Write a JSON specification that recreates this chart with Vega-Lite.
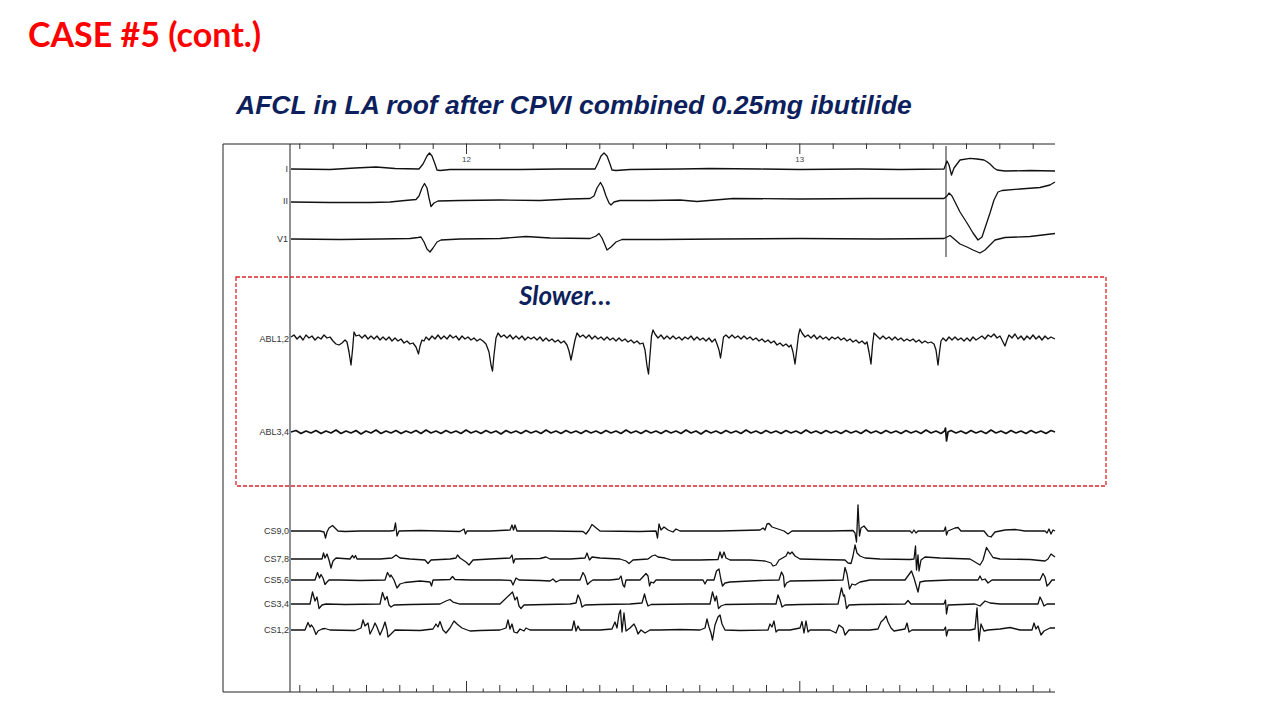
{
"$schema":"https://vega.github.io/schema/vega-lite/v6.json",
"width":1280,"height":720,"padding":0,"autosize":{"type":"none"},
"background":"#ffffff","view":{"stroke":null},
"datasets":{
"frame":[{"x":223,"y":144,"x2":223,"y2":692},{"x":290,"y":144,"x2":290,"y2":692},{"x":223,"y":144,"x2":1055,"y2":144},{"x":223,"y":692,"x2":1055,"y2":692},{"x":946,"y":146,"x2":946,"y2":257}],
"box":[{"x":236,"y":277,"x2":1106,"y2":486}],
"ticks":[
{"x":299.8,"y":143.5,"y2":149},{"x":333.2,"y":143.5,"y2":149},{"x":366.5,"y":143.5,"y2":149},{"x":399.8,"y":143.5,"y2":149},{"x":433.2,"y":143.5,"y2":149},{"x":466.5,"y":143.5,"y2":154},{"x":499.8,"y":143.5,"y2":149},{"x":533.2,"y":143.5,"y2":149},{"x":566.5,"y":143.5,"y2":149},{"x":599.8,"y":143.5,"y2":149},{"x":633.2,"y":143.5,"y2":149},{"x":666.5,"y":143.5,"y2":149},{"x":699.8,"y":143.5,"y2":149},{"x":733.2,"y":143.5,"y2":149},{"x":766.5,"y":143.5,"y2":149},{"x":799.8,"y":143.5,"y2":154},{"x":833.2,"y":143.5,"y2":149},{"x":866.5,"y":143.5,"y2":149},{"x":899.8,"y":143.5,"y2":149},{"x":933.2,"y":143.5,"y2":149},{"x":966.5,"y":143.5,"y2":149},{"x":999.8,"y":143.5,"y2":149},{"x":1033.2,"y":143.5,"y2":149},
{"x":299.8,"y":692,"y2":685},{"x":333.2,"y":692,"y2":685},{"x":366.5,"y":692,"y2":685},{"x":399.8,"y":692,"y2":685},{"x":433.2,"y":692,"y2":685},{"x":466.5,"y":692,"y2":681},{"x":499.8,"y":692,"y2":685},{"x":533.2,"y":692,"y2":685},{"x":566.5,"y":692,"y2":685},{"x":599.8,"y":692,"y2":685},{"x":633.2,"y":692,"y2":685},{"x":666.5,"y":692,"y2":685},{"x":699.8,"y":692,"y2":685},{"x":733.2,"y":692,"y2":685},{"x":766.5,"y":692,"y2":685},{"x":799.8,"y":692,"y2":681},{"x":833.2,"y":692,"y2":685},{"x":866.5,"y":692,"y2":685},{"x":899.8,"y":692,"y2":685},{"x":933.2,"y":692,"y2":685},{"x":966.5,"y":692,"y2":685},{"x":999.8,"y":692,"y2":685},{"x":1033.2,"y":692,"y2":685},
{"x":316.5,"y":692,"y2":688.5},{"x":349.8,"y":692,"y2":688.5},{"x":383.2,"y":692,"y2":688.5},{"x":416.5,"y":692,"y2":688.5},{"x":449.8,"y":692,"y2":688.5},{"x":483.2,"y":692,"y2":688.5},{"x":516.5,"y":692,"y2":688.5},{"x":549.8,"y":692,"y2":688.5},{"x":583.2,"y":692,"y2":688.5},{"x":616.5,"y":692,"y2":688.5},{"x":649.8,"y":692,"y2":688.5},{"x":683.2,"y":692,"y2":688.5},{"x":716.5,"y":692,"y2":688.5},{"x":749.8,"y":692,"y2":688.5},{"x":783.2,"y":692,"y2":688.5},{"x":816.5,"y":692,"y2":688.5},{"x":849.8,"y":692,"y2":688.5},{"x":883.2,"y":692,"y2":688.5},{"x":916.5,"y":692,"y2":688.5},{"x":949.8,"y":692,"y2":688.5},{"x":983.2,"y":692,"y2":688.5},{"x":1016.5,"y":692,"y2":688.5},{"x":1049.8,"y":692,"y2":688.5}],
"leads":[{"x":288,"y":169,"t":"I"},{"x":288,"y":201,"t":"II"},{"x":288,"y":239,"t":"V1"},{"x":289,"y":339,"t":"ABL1,2"},{"x":289,"y":432,"t":"ABL3,4"},{"x":289,"y":531,"t":"CS9,0"},{"x":289,"y":559,"t":"CS7,8"},{"x":289,"y":580,"t":"CS5,6"},{"x":289,"y":604,"t":"CS3,4"},{"x":289,"y":630,"t":"CS1,2"}],
"secs":[{"x":466.5,"y":160,"t":"12"},{"x":799.8,"y":160,"t":"13"}],
"w":[
{"k":"I","x":291,"y":169},{"k":"I","x":330,"y":169.5},{"k":"I","x":355,"y":168},{"k":"I","x":376,"y":167},{"k":"I","x":395,"y":168.5},{"k":"I","x":419,"y":169},{"k":"I","x":423,"y":164},{"k":"I","x":427,"y":156},{"k":"I","x":429.5,"y":153},{"k":"I","x":432,"y":156},{"k":"I","x":435,"y":164},{"k":"I","x":437,"y":170},{"k":"I","x":440,"y":170.5},{"k":"I","x":450,"y":169.5},{"k":"I","x":520,"y":169.5},{"k":"I","x":560,"y":169},{"k":"I","x":595,"y":169},{"k":"I","x":598,"y":163},{"k":"I","x":601,"y":156},{"k":"I","x":604,"y":153},{"k":"I","x":607,"y":156},{"k":"I","x":610,"y":164},{"k":"I","x":612,"y":170},{"k":"I","x":616,"y":170.5},{"k":"I","x":630,"y":169.5},{"k":"I","x":680,"y":169},{"k":"I","x":710,"y":168.5},{"k":"I","x":760,"y":169},{"k":"I","x":800,"y":169.5},{"k":"I","x":860,"y":169},{"k":"I","x":900,"y":169.5},{"k":"I","x":944,"y":169},{"k":"I","x":947,"y":161},{"k":"I","x":949,"y":165},{"k":"I","x":951.5,"y":175},{"k":"I","x":954,"y":168},{"k":"I","x":960,"y":160},{"k":"I","x":970,"y":158.3},{"k":"I","x":977,"y":159},{"k":"I","x":984,"y":160},{"k":"I","x":987,"y":161.7},{"k":"I","x":990,"y":164},{"k":"I","x":994,"y":168},{"k":"I","x":997,"y":170},{"k":"I","x":1005,"y":171},{"k":"I","x":1030,"y":170.5},{"k":"I","x":1055,"y":171},
{"k":"II","x":291,"y":202},{"k":"II","x":330,"y":202.5},{"k":"II","x":370,"y":202.5},{"k":"II","x":390,"y":202},{"k":"II","x":405,"y":200.5},{"k":"II","x":416,"y":199.5},{"k":"II","x":419,"y":196},{"k":"II","x":422,"y":188},{"k":"II","x":424.5,"y":183.5},{"k":"II","x":427,"y":188},{"k":"II","x":429,"y":198},{"k":"II","x":431,"y":206.5},{"k":"II","x":434,"y":203},{"k":"II","x":438,"y":201},{"k":"II","x":460,"y":200.5},{"k":"II","x":500,"y":200},{"k":"II","x":540,"y":200.5},{"k":"II","x":570,"y":199},{"k":"II","x":590,"y":198.5},{"k":"II","x":594,"y":196},{"k":"II","x":597,"y":188},{"k":"II","x":600.5,"y":182.5},{"k":"II","x":603,"y":187},{"k":"II","x":606,"y":196},{"k":"II","x":609,"y":203},{"k":"II","x":611,"y":205},{"k":"II","x":614,"y":202},{"k":"II","x":620,"y":200.5},{"k":"II","x":650,"y":200.5},{"k":"II","x":680,"y":200},{"k":"II","x":697,"y":201.5},{"k":"II","x":715,"y":200},{"k":"II","x":733,"y":198.5},{"k":"II","x":800,"y":199},{"k":"II","x":870,"y":198.5},{"k":"II","x":944,"y":198.5},{"k":"II","x":947,"y":196},{"k":"II","x":949,"y":193},{"k":"II","x":952,"y":196},{"k":"II","x":960,"y":212},{"k":"II","x":967,"y":223},{"k":"II","x":973,"y":233},{"k":"II","x":978,"y":240},{"k":"II","x":982,"y":237},{"k":"II","x":986,"y":225},{"k":"II","x":990,"y":213},{"k":"II","x":994,"y":200},{"k":"II","x":998,"y":192},{"k":"II","x":1002,"y":190.5},{"k":"II","x":1020,"y":189},{"k":"II","x":1040,"y":187.5},{"k":"II","x":1050,"y":185},{"k":"II","x":1055,"y":182},
{"k":"V1","x":291,"y":239},{"k":"V1","x":340,"y":239.5},{"k":"V1","x":380,"y":239},{"k":"V1","x":410,"y":238.5},{"k":"V1","x":418,"y":237.5},{"k":"V1","x":421,"y":237},{"k":"V1","x":424,"y":242},{"k":"V1","x":427,"y":249},{"k":"V1","x":430,"y":252},{"k":"V1","x":433,"y":248},{"k":"V1","x":437,"y":242},{"k":"V1","x":441,"y":240},{"k":"V1","x":460,"y":239},{"k":"V1","x":500,"y":238.5},{"k":"V1","x":526,"y":236.5},{"k":"V1","x":550,"y":238},{"k":"V1","x":590,"y":238.5},{"k":"V1","x":596,"y":236},{"k":"V1","x":599,"y":233.5},{"k":"V1","x":602,"y":238},{"k":"V1","x":605,"y":245},{"k":"V1","x":607,"y":250},{"k":"V1","x":611,"y":247},{"k":"V1","x":616,"y":242},{"k":"V1","x":622,"y":239.5},{"k":"V1","x":660,"y":239.5},{"k":"V1","x":720,"y":239},{"k":"V1","x":800,"y":238.5},{"k":"V1","x":880,"y":239},{"k":"V1","x":944,"y":238.5},{"k":"V1","x":947,"y":237},{"k":"V1","x":950,"y":235.5},{"k":"V1","x":953,"y":238},{"k":"V1","x":960,"y":244},{"k":"V1","x":967,"y":247},{"k":"V1","x":973,"y":250},{"k":"V1","x":980,"y":253},{"k":"V1","x":985,"y":250},{"k":"V1","x":990,"y":245},{"k":"V1","x":995,"y":240},{"k":"V1","x":1005,"y":237.5},{"k":"V1","x":1030,"y":236.5},{"k":"V1","x":1055,"y":233.5},
{"k":"A12","x":291,"y":337},{"k":"A12","x":294,"y":335},{"k":"A12","x":297,"y":339},{"k":"A12","x":300,"y":336},{"k":"A12","x":303,"y":340},{"k":"A12","x":306,"y":335},{"k":"A12","x":309,"y":338},{"k":"A12","x":312,"y":336},{"k":"A12","x":315,"y":340},{"k":"A12","x":318,"y":337},{"k":"A12","x":321,"y":339},{"k":"A12","x":324,"y":335},{"k":"A12","x":327,"y":338},{"k":"A12","x":330,"y":337},{"k":"A12","x":333,"y":341},{"k":"A12","x":336,"y":344},{"k":"A12","x":339,"y":345},{"k":"A12","x":342,"y":343},{"k":"A12","x":345,"y":340},{"k":"A12","x":347,"y":342},{"k":"A12","x":349,"y":352},{"k":"A12","x":351,"y":365},{"k":"A12","x":352.5,"y":350},{"k":"A12","x":354,"y":332},{"k":"A12","x":356,"y":336},
{"k":"A12","x":359,"y":335},{"k":"A12","x":362,"y":338},{"k":"A12","x":365,"y":335},{"k":"A12","x":368,"y":339},{"k":"A12","x":371,"y":336},{"k":"A12","x":374,"y":339},{"k":"A12","x":377,"y":336},{"k":"A12","x":380,"y":340},{"k":"A12","x":383,"y":337},{"k":"A12","x":386,"y":340},{"k":"A12","x":389,"y":337},{"k":"A12","x":392,"y":341},{"k":"A12","x":395,"y":338},{"k":"A12","x":398,"y":341},{"k":"A12","x":401,"y":339},{"k":"A12","x":404,"y":343},{"k":"A12","x":407,"y":341},{"k":"A12","x":410,"y":344},{"k":"A12","x":413,"y":343},{"k":"A12","x":416,"y":347},{"k":"A12","x":418.5,"y":354},{"k":"A12","x":420,"y":346},{"k":"A12","x":422,"y":340},{"k":"A12","x":424,"y":341},{"k":"A12","x":426,"y":337},{"k":"A12","x":429,"y":340},{"k":"A12","x":432,"y":336},{"k":"A12","x":435,"y":339},{"k":"A12","x":438,"y":335},
{"k":"A12","x":441,"y":339},{"k":"A12","x":444,"y":336},{"k":"A12","x":447,"y":339},{"k":"A12","x":450,"y":335},{"k":"A12","x":453,"y":338},{"k":"A12","x":456,"y":336},{"k":"A12","x":459,"y":340},{"k":"A12","x":462,"y":336},{"k":"A12","x":465,"y":339},{"k":"A12","x":468,"y":337},{"k":"A12","x":471,"y":340},{"k":"A12","x":474,"y":338},{"k":"A12","x":477,"y":341},{"k":"A12","x":480,"y":339},{"k":"A12","x":483,"y":341},{"k":"A12","x":486,"y":344},{"k":"A12","x":489,"y":352},{"k":"A12","x":491,"y":365},{"k":"A12","x":492.5,"y":371},{"k":"A12","x":494,"y":355},{"k":"A12","x":496,"y":338},{"k":"A12","x":498,"y":333},{"k":"A12","x":501,"y":337},
{"k":"A12","x":504,"y":335},{"k":"A12","x":507,"y":338},{"k":"A12","x":510,"y":335},{"k":"A12","x":513,"y":339},{"k":"A12","x":516,"y":336},{"k":"A12","x":519,"y":339},{"k":"A12","x":522,"y":336},{"k":"A12","x":525,"y":340},{"k":"A12","x":528,"y":337},{"k":"A12","x":531,"y":339},{"k":"A12","x":534,"y":337},{"k":"A12","x":537,"y":340},{"k":"A12","x":540,"y":337},{"k":"A12","x":543,"y":341},{"k":"A12","x":546,"y":338},{"k":"A12","x":549,"y":341},{"k":"A12","x":552,"y":339},{"k":"A12","x":555,"y":342},{"k":"A12","x":558,"y":340},{"k":"A12","x":561,"y":343},{"k":"A12","x":564,"y":341},{"k":"A12","x":567,"y":345},{"k":"A12","x":569,"y":351},{"k":"A12","x":571,"y":360},{"k":"A12","x":573,"y":350},{"k":"A12","x":575,"y":340},{"k":"A12","x":577,"y":333},{"k":"A12","x":580,"y":337},{"k":"A12","x":583,"y":335},
{"k":"A12","x":586,"y":338},{"k":"A12","x":589,"y":335},{"k":"A12","x":592,"y":339},{"k":"A12","x":595,"y":336},{"k":"A12","x":598,"y":339},{"k":"A12","x":601,"y":337},{"k":"A12","x":604,"y":340},{"k":"A12","x":607,"y":337},{"k":"A12","x":610,"y":340},{"k":"A12","x":613,"y":338},{"k":"A12","x":616,"y":341},{"k":"A12","x":619,"y":338},{"k":"A12","x":622,"y":341},{"k":"A12","x":625,"y":339},{"k":"A12","x":628,"y":342},{"k":"A12","x":631,"y":340},{"k":"A12","x":634,"y":343},{"k":"A12","x":637,"y":341},{"k":"A12","x":640,"y":344},{"k":"A12","x":643,"y":343},{"k":"A12","x":645,"y":350},{"k":"A12","x":647,"y":366},{"k":"A12","x":648.5,"y":374},{"k":"A12","x":650,"y":355},{"k":"A12","x":651.5,"y":336},{"k":"A12","x":653,"y":330},{"k":"A12","x":655,"y":334},{"k":"A12","x":658,"y":338},
{"k":"A12","x":661,"y":335},{"k":"A12","x":664,"y":339},{"k":"A12","x":667,"y":336},{"k":"A12","x":670,"y":339},{"k":"A12","x":673,"y":336},{"k":"A12","x":676,"y":339},{"k":"A12","x":679,"y":337},{"k":"A12","x":682,"y":340},{"k":"A12","x":685,"y":337},{"k":"A12","x":688,"y":339},{"k":"A12","x":691,"y":336},{"k":"A12","x":694,"y":340},{"k":"A12","x":697,"y":337},{"k":"A12","x":700,"y":340},{"k":"A12","x":703,"y":338},{"k":"A12","x":706,"y":341},{"k":"A12","x":709,"y":338},{"k":"A12","x":712,"y":342},{"k":"A12","x":715,"y":339},{"k":"A12","x":717,"y":344},{"k":"A12","x":719,"y":350},{"k":"A12","x":720.5,"y":358},{"k":"A12","x":722,"y":348},{"k":"A12","x":723.5,"y":337},{"k":"A12","x":726,"y":335},{"k":"A12","x":729,"y":338},
{"k":"A12","x":732,"y":335},{"k":"A12","x":735,"y":338},{"k":"A12","x":738,"y":336},{"k":"A12","x":741,"y":339},{"k":"A12","x":744,"y":336},{"k":"A12","x":747,"y":339},{"k":"A12","x":750,"y":337},{"k":"A12","x":753,"y":340},{"k":"A12","x":756,"y":338},{"k":"A12","x":759,"y":341},{"k":"A12","x":762,"y":339},{"k":"A12","x":765,"y":342},{"k":"A12","x":768,"y":340},{"k":"A12","x":771,"y":343},{"k":"A12","x":774,"y":341},{"k":"A12","x":777,"y":345},{"k":"A12","x":780,"y":343},{"k":"A12","x":783,"y":346},{"k":"A12","x":786,"y":344},{"k":"A12","x":789,"y":347},{"k":"A12","x":791,"y":345},{"k":"A12","x":793,"y":352},{"k":"A12","x":795,"y":364},{"k":"A12","x":797,"y":348},{"k":"A12","x":798.5,"y":335},{"k":"A12","x":800,"y":329},{"k":"A12","x":802,"y":333},{"k":"A12","x":805,"y":337},
{"k":"A12","x":808,"y":335},{"k":"A12","x":811,"y":338},{"k":"A12","x":814,"y":335},{"k":"A12","x":817,"y":339},{"k":"A12","x":820,"y":336},{"k":"A12","x":823,"y":339},{"k":"A12","x":826,"y":337},{"k":"A12","x":829,"y":340},{"k":"A12","x":832,"y":337},{"k":"A12","x":835,"y":339},{"k":"A12","x":838,"y":337},{"k":"A12","x":841,"y":340},{"k":"A12","x":844,"y":338},{"k":"A12","x":847,"y":341},{"k":"A12","x":850,"y":339},{"k":"A12","x":853,"y":342},{"k":"A12","x":856,"y":340},{"k":"A12","x":859,"y":343},{"k":"A12","x":862,"y":341},{"k":"A12","x":865,"y":344},{"k":"A12","x":867,"y":342},{"k":"A12","x":869,"y":352},{"k":"A12","x":871,"y":364},{"k":"A12","x":872.5,"y":345},{"k":"A12","x":874,"y":333},{"k":"A12","x":877,"y":336},
{"k":"A12","x":880,"y":339},{"k":"A12","x":883,"y":336},{"k":"A12","x":886,"y":339},{"k":"A12","x":889,"y":337},{"k":"A12","x":892,"y":340},{"k":"A12","x":895,"y":337},{"k":"A12","x":898,"y":340},{"k":"A12","x":901,"y":338},{"k":"A12","x":904,"y":341},{"k":"A12","x":907,"y":339},{"k":"A12","x":910,"y":341},{"k":"A12","x":913,"y":339},{"k":"A12","x":916,"y":342},{"k":"A12","x":919,"y":340},{"k":"A12","x":922,"y":343},{"k":"A12","x":925,"y":341},{"k":"A12","x":928,"y":343},{"k":"A12","x":931,"y":342},{"k":"A12","x":934,"y":344},{"k":"A12","x":936,"y":350},{"k":"A12","x":938,"y":365},{"k":"A12","x":939.5,"y":352},{"k":"A12","x":941,"y":341},{"k":"A12","x":943,"y":338},{"k":"A12","x":946,"y":341},{"k":"A12","x":949,"y":337},
{"k":"A12","x":952,"y":340},{"k":"A12","x":955,"y":337},{"k":"A12","x":958,"y":340},{"k":"A12","x":961,"y":338},{"k":"A12","x":964,"y":341},{"k":"A12","x":967,"y":338},{"k":"A12","x":970,"y":341},{"k":"A12","x":973,"y":337},{"k":"A12","x":976,"y":340},{"k":"A12","x":979,"y":338},{"k":"A12","x":982,"y":336},{"k":"A12","x":985,"y":339},{"k":"A12","x":988,"y":335},{"k":"A12","x":991,"y":337},{"k":"A12","x":994,"y":334},{"k":"A12","x":997,"y":338},{"k":"A12","x":1000,"y":336},{"k":"A12","x":1003,"y":342},{"k":"A12","x":1005,"y":346},{"k":"A12","x":1007,"y":340},{"k":"A12","x":1009,"y":335},{"k":"A12","x":1012,"y":338},{"k":"A12","x":1015,"y":334},{"k":"A12","x":1018,"y":339},{"k":"A12","x":1021,"y":336},{"k":"A12","x":1024,"y":340},{"k":"A12","x":1027,"y":336},{"k":"A12","x":1030,"y":339},{"k":"A12","x":1033,"y":335},{"k":"A12","x":1036,"y":339},{"k":"A12","x":1039,"y":336},{"k":"A12","x":1042,"y":340},{"k":"A12","x":1045,"y":336},{"k":"A12","x":1048,"y":339},{"k":"A12","x":1051,"y":337},{"k":"A12","x":1055,"y":339},
{"k":"A34","x":291,"y":432},{"k":"A34","x":296,"y":430.5},{"k":"A34","x":301,"y":433.5},{"k":"A34","x":306,"y":431},{"k":"A34","x":311,"y":433},{"k":"A34","x":316,"y":430.5},{"k":"A34","x":321,"y":433.5},{"k":"A34","x":326,"y":431},{"k":"A34","x":331,"y":433},{"k":"A34","x":336,"y":430},{"k":"A34","x":341,"y":433.5},{"k":"A34","x":346,"y":431},{"k":"A34","x":351,"y":433},{"k":"A34","x":356,"y":430.5},{"k":"A34","x":361,"y":434},{"k":"A34","x":366,"y":431},{"k":"A34","x":371,"y":433},{"k":"A34","x":376,"y":430},{"k":"A34","x":381,"y":433.5},{"k":"A34","x":386,"y":431},{"k":"A34","x":391,"y":433},{"k":"A34","x":396,"y":430.5},{"k":"A34","x":401,"y":433.5},{"k":"A34","x":406,"y":431},{"k":"A34","x":411,"y":433},{"k":"A34","x":416,"y":430.5},{"k":"A34","x":421,"y":433.5},{"k":"A34","x":426,"y":430},{"k":"A34","x":431,"y":433},{"k":"A34","x":436,"y":431},{"k":"A34","x":441,"y":433.5},{"k":"A34","x":446,"y":430.5},{"k":"A34","x":451,"y":433},{"k":"A34","x":456,"y":431},{"k":"A34","x":461,"y":433.5},{"k":"A34","x":466,"y":430},{"k":"A34","x":471,"y":433},{"k":"A34","x":476,"y":431},{"k":"A34","x":481,"y":433.5},{"k":"A34","x":486,"y":430.5},{"k":"A34","x":491,"y":433},{"k":"A34","x":496,"y":431},{"k":"A34","x":501,"y":434},{"k":"A34","x":506,"y":430.5},{"k":"A34","x":511,"y":433},{"k":"A34","x":516,"y":431},{"k":"A34","x":521,"y":433.5},{"k":"A34","x":526,"y":430.5},{"k":"A34","x":531,"y":433},{"k":"A34","x":536,"y":431},{"k":"A34","x":541,"y":433.5},{"k":"A34","x":546,"y":430},{"k":"A34","x":551,"y":433},{"k":"A34","x":556,"y":431},{"k":"A34","x":561,"y":433.5},{"k":"A34","x":566,"y":430.5},{"k":"A34","x":571,"y":433},{"k":"A34","x":576,"y":431},{"k":"A34","x":581,"y":433.5},{"k":"A34","x":586,"y":430.5},{"k":"A34","x":591,"y":433},{"k":"A34","x":596,"y":431},{"k":"A34","x":601,"y":433.5},{"k":"A34","x":606,"y":430.5},{"k":"A34","x":611,"y":433},{"k":"A34","x":616,"y":431},{"k":"A34","x":621,"y":433.5},{"k":"A34","x":626,"y":430},{"k":"A34","x":631,"y":433},{"k":"A34","x":636,"y":431},{"k":"A34","x":641,"y":433.5},{"k":"A34","x":646,"y":430.5},{"k":"A34","x":651,"y":433},{"k":"A34","x":656,"y":431},{"k":"A34","x":661,"y":433.5},{"k":"A34","x":666,"y":430.5},{"k":"A34","x":671,"y":433},{"k":"A34","x":676,"y":431},{"k":"A34","x":681,"y":433.5},{"k":"A34","x":686,"y":430},{"k":"A34","x":691,"y":433},{"k":"A34","x":696,"y":431},{"k":"A34","x":701,"y":434},{"k":"A34","x":706,"y":430.5},{"k":"A34","x":711,"y":433},{"k":"A34","x":716,"y":431},{"k":"A34","x":721,"y":433.5},{"k":"A34","x":726,"y":430.5},{"k":"A34","x":731,"y":433},{"k":"A34","x":736,"y":431},{"k":"A34","x":741,"y":433.5},{"k":"A34","x":746,"y":430},{"k":"A34","x":751,"y":433},{"k":"A34","x":756,"y":431},{"k":"A34","x":761,"y":433.5},{"k":"A34","x":766,"y":430.5},{"k":"A34","x":771,"y":433},{"k":"A34","x":776,"y":431},{"k":"A34","x":781,"y":433.5},{"k":"A34","x":786,"y":430.5},{"k":"A34","x":791,"y":433},{"k":"A34","x":796,"y":431},{"k":"A34","x":801,"y":433.5},{"k":"A34","x":806,"y":430},{"k":"A34","x":811,"y":433},{"k":"A34","x":816,"y":431},{"k":"A34","x":821,"y":433.5},{"k":"A34","x":826,"y":430.5},{"k":"A34","x":831,"y":433},{"k":"A34","x":836,"y":431},{"k":"A34","x":841,"y":433.5},{"k":"A34","x":846,"y":430.5},{"k":"A34","x":851,"y":433},{"k":"A34","x":856,"y":431},{"k":"A34","x":861,"y":433.5},{"k":"A34","x":866,"y":430},{"k":"A34","x":871,"y":433},{"k":"A34","x":876,"y":431},{"k":"A34","x":881,"y":433.5},{"k":"A34","x":886,"y":430.5},{"k":"A34","x":891,"y":433},{"k":"A34","x":896,"y":431},{"k":"A34","x":901,"y":433.5},{"k":"A34","x":906,"y":430.5},{"k":"A34","x":911,"y":433},{"k":"A34","x":916,"y":431},{"k":"A34","x":921,"y":433.5},{"k":"A34","x":926,"y":430},{"k":"A34","x":931,"y":433},{"k":"A34","x":936,"y":431},{"k":"A34","x":941,"y":433.5},{"k":"A34","x":944.5,"y":431},{"k":"A34","x":945.5,"y":428},{"k":"A34","x":946.5,"y":441},{"k":"A34","x":948,"y":432},{"k":"A34","x":951,"y":430.5},{"k":"A34","x":956,"y":433},{"k":"A34","x":961,"y":431},{"k":"A34","x":966,"y":433.5},{"k":"A34","x":971,"y":430.5},{"k":"A34","x":976,"y":433},{"k":"A34","x":981,"y":431},{"k":"A34","x":986,"y":433.5},{"k":"A34","x":991,"y":430},{"k":"A34","x":996,"y":433},{"k":"A34","x":1001,"y":431},{"k":"A34","x":1006,"y":433.5},{"k":"A34","x":1011,"y":430.5},{"k":"A34","x":1016,"y":433},{"k":"A34","x":1021,"y":431},{"k":"A34","x":1026,"y":433.5},{"k":"A34","x":1031,"y":430.5},{"k":"A34","x":1036,"y":433},{"k":"A34","x":1041,"y":431},{"k":"A34","x":1046,"y":433.5},{"k":"A34","x":1051,"y":430.5},{"k":"A34","x":1055,"y":432},
{"k":"C90","x":291,"y":531},{"k":"C90","x":320,"y":531},{"k":"C90","x":324,"y":532},{"k":"C90","x":325.5,"y":538},{"k":"C90","x":327,"y":532},{"k":"C90","x":329,"y":528},{"k":"C90","x":332.5,"y":525.5},{"k":"C90","x":335,"y":528},{"k":"C90","x":338,"y":531},{"k":"C90","x":345,"y":531.5},{"k":"C90","x":360,"y":531},{"k":"C90","x":390,"y":531},{"k":"C90","x":394,"y":530.5},{"k":"C90","x":395.5,"y":523},{"k":"C90","x":397,"y":536},{"k":"C90","x":399,"y":531},{"k":"C90","x":420,"y":530.5},{"k":"C90","x":460,"y":531.5},{"k":"C90","x":464,"y":529},{"k":"C90","x":465.5,"y":534},{"k":"C90","x":467,"y":531},{"k":"C90","x":490,"y":531},{"k":"C90","x":510,"y":530},{"k":"C90","x":512,"y":525},{"k":"C90","x":513.5,"y":530},{"k":"C90","x":515,"y":525},{"k":"C90","x":517,"y":531},{"k":"C90","x":550,"y":531},{"k":"C90","x":583,"y":531.5},{"k":"C90","x":586,"y":534},{"k":"C90","x":589,"y":530},{"k":"C90","x":592,"y":524.5},{"k":"C90","x":595,"y":527},{"k":"C90","x":600,"y":531},{"k":"C90","x":640,"y":531.5},{"k":"C90","x":656,"y":531},{"k":"C90","x":657.5,"y":538},{"k":"C90","x":659,"y":524},{"k":"C90","x":661,"y":530},{"k":"C90","x":664,"y":527},{"k":"C90","x":668,"y":530},{"k":"C90","x":673,"y":532},{"k":"C90","x":676,"y":529},{"k":"C90","x":680,"y":531},{"k":"C90","x":720,"y":531},{"k":"C90","x":760,"y":530},{"k":"C90","x":763,"y":528},{"k":"C90","x":765,"y":530},{"k":"C90","x":767,"y":524},{"k":"C90","x":769,"y":523.5},{"k":"C90","x":772,"y":527},{"k":"C90","x":778,"y":529},{"k":"C90","x":784,"y":531},{"k":"C90","x":788,"y":534},{"k":"C90","x":792,"y":531},{"k":"C90","x":830,"y":531},{"k":"C90","x":853,"y":530.5},{"k":"C90","x":855,"y":533},{"k":"C90","x":856.5,"y":542},{"k":"C90","x":858,"y":505},{"k":"C90","x":859.5,"y":536},{"k":"C90","x":861,"y":528},{"k":"C90","x":864,"y":526},{"k":"C90","x":868,"y":531},{"k":"C90","x":910,"y":531},{"k":"C90","x":912,"y":533},{"k":"C90","x":914,"y":530},{"k":"C90","x":916,"y":533},{"k":"C90","x":918,"y":531},{"k":"C90","x":944,"y":531},{"k":"C90","x":945.5,"y":527},{"k":"C90","x":946.5,"y":535},{"k":"C90","x":948,"y":531},{"k":"C90","x":955,"y":528},{"k":"C90","x":958,"y":527.5},{"k":"C90","x":961,"y":531},{"k":"C90","x":984,"y":531},{"k":"C90","x":988,"y":536},{"k":"C90","x":991,"y":537},{"k":"C90","x":995,"y":532},{"k":"C90","x":1005,"y":530},{"k":"C90","x":1015,"y":529.5},{"k":"C90","x":1025,"y":531},{"k":"C90","x":1045,"y":531},{"k":"C90","x":1047,"y":533},{"k":"C90","x":1049,"y":529},{"k":"C90","x":1051,"y":534},{"k":"C90","x":1053,"y":530},{"k":"C90","x":1055,"y":531},
{"k":"C78","x":291,"y":559},{"k":"C78","x":320,"y":559},{"k":"C78","x":322,"y":559},{"k":"C78","x":323.5,"y":553},{"k":"C78","x":325,"y":558},{"k":"C78","x":327,"y":554},{"k":"C78","x":329,"y":560},{"k":"C78","x":331,"y":568},{"k":"C78","x":333,"y":561},{"k":"C78","x":336,"y":558},{"k":"C78","x":350,"y":559},{"k":"C78","x":352.5,"y":555.5},{"k":"C78","x":354,"y":558},{"k":"C78","x":355.5,"y":555.5},{"k":"C78","x":357,"y":559},{"k":"C78","x":380,"y":559},{"k":"C78","x":392,"y":558},{"k":"C78","x":396,"y":555},{"k":"C78","x":400,"y":558},{"k":"C78","x":410,"y":559},{"k":"C78","x":425,"y":560},{"k":"C78","x":428,"y":563.5},{"k":"C78","x":431,"y":560},{"k":"C78","x":450,"y":559},{"k":"C78","x":456,"y":558},{"k":"C78","x":457.5,"y":555},{"k":"C78","x":460,"y":558},{"k":"C78","x":466,"y":562},{"k":"C78","x":469,"y":565},{"k":"C78","x":473,"y":560},{"k":"C78","x":490,"y":559},{"k":"C78","x":510,"y":558},{"k":"C78","x":512,"y":555},{"k":"C78","x":513.5,"y":563},{"k":"C78","x":515,"y":559},{"k":"C78","x":540,"y":558.5},{"k":"C78","x":546,"y":557},{"k":"C78","x":550,"y":559},{"k":"C78","x":570,"y":559},{"k":"C78","x":585,"y":558},{"k":"C78","x":587,"y":553},{"k":"C78","x":589.5,"y":560},{"k":"C78","x":592,"y":557},{"k":"C78","x":600,"y":558},{"k":"C78","x":620,"y":559},{"k":"C78","x":626,"y":561},{"k":"C78","x":629,"y":563.5},{"k":"C78","x":633,"y":560},{"k":"C78","x":648,"y":559},{"k":"C78","x":652,"y":556},{"k":"C78","x":655,"y":555},{"k":"C78","x":658,"y":557},{"k":"C78","x":665,"y":558},{"k":"C78","x":672,"y":560},{"k":"C78","x":700,"y":560},{"k":"C78","x":718,"y":559.5},{"k":"C78","x":720,"y":552},{"k":"C78","x":722,"y":558},{"k":"C78","x":724,"y":552},{"k":"C78","x":726,"y":558},{"k":"C78","x":730,"y":560},{"k":"C78","x":750,"y":560},{"k":"C78","x":765,"y":561},{"k":"C78","x":771,"y":563},{"k":"C78","x":773,"y":566},{"k":"C78","x":776,"y":565},{"k":"C78","x":779,"y":560},{"k":"C78","x":786,"y":556},{"k":"C78","x":788,"y":552},{"k":"C78","x":790,"y":554},{"k":"C78","x":792,"y":552},{"k":"C78","x":795,"y":556},{"k":"C78","x":800,"y":559},{"k":"C78","x":820,"y":559.5},{"k":"C78","x":845,"y":560},{"k":"C78","x":848,"y":563},{"k":"C78","x":851,"y":563.5},{"k":"C78","x":853,"y":556},{"k":"C78","x":855,"y":545},{"k":"C78","x":857,"y":553},{"k":"C78","x":860,"y":556},{"k":"C78","x":865,"y":558},{"k":"C78","x":880,"y":559},{"k":"C78","x":910,"y":559.5},{"k":"C78","x":914,"y":559},{"k":"C78","x":915.5,"y":546},{"k":"C78","x":916.5,"y":570},{"k":"C78","x":918,"y":555},{"k":"C78","x":919,"y":571},{"k":"C78","x":921,"y":560},{"k":"C78","x":925,"y":557},{"k":"C78","x":940,"y":558},{"k":"C78","x":970,"y":559},{"k":"C78","x":980,"y":565},{"k":"C78","x":983,"y":560},{"k":"C78","x":986.5,"y":547.5},{"k":"C78","x":990,"y":553},{"k":"C78","x":993,"y":557.5},{"k":"C78","x":1000,"y":559},{"k":"C78","x":1030,"y":559.5},{"k":"C78","x":1045,"y":561},{"k":"C78","x":1048,"y":559},{"k":"C78","x":1051,"y":554},{"k":"C78","x":1055,"y":557},
{"k":"C56","x":291,"y":580},{"k":"C56","x":315,"y":580},{"k":"C56","x":317.5,"y":572.5},{"k":"C56","x":319.5,"y":578},{"k":"C56","x":321,"y":574.5},{"k":"C56","x":323,"y":578},{"k":"C56","x":325,"y":584.5},{"k":"C56","x":327,"y":582},{"k":"C56","x":329,"y":580},{"k":"C56","x":340,"y":580},{"k":"C56","x":360,"y":580.5},{"k":"C56","x":385,"y":580},{"k":"C56","x":387.5,"y":572.5},{"k":"C56","x":390,"y":577},{"k":"C56","x":391,"y":575},{"k":"C56","x":394,"y":580},{"k":"C56","x":397,"y":588},{"k":"C56","x":400,"y":584},{"k":"C56","x":405,"y":582.5},{"k":"C56","x":420,"y":581},{"k":"C56","x":430,"y":582},{"k":"C56","x":431.5,"y":586},{"k":"C56","x":433,"y":580},{"k":"C56","x":436,"y":580},{"k":"C56","x":450,"y":579.5},{"k":"C56","x":452.5,"y":576.5},{"k":"C56","x":455,"y":579.5},{"k":"C56","x":470,"y":580},{"k":"C56","x":500,"y":580},{"k":"C56","x":511,"y":580.5},{"k":"C56","x":513,"y":585},{"k":"C56","x":516,"y":578},{"k":"C56","x":519,"y":580},{"k":"C56","x":540,"y":580.5},{"k":"C56","x":550,"y":581},{"k":"C56","x":553,"y":579},{"k":"C56","x":556,"y":582},{"k":"C56","x":560,"y":580},{"k":"C56","x":580,"y":580},{"k":"C56","x":583,"y":572.5},{"k":"C56","x":585,"y":576},{"k":"C56","x":587.5,"y":584.5},{"k":"C56","x":590,"y":582},{"k":"C56","x":593,"y":580},{"k":"C56","x":610,"y":580},{"k":"C56","x":619,"y":579},{"k":"C56","x":621,"y":576},{"k":"C56","x":623,"y":585},{"k":"C56","x":624.5,"y":587},{"k":"C56","x":626,"y":580},{"k":"C56","x":640,"y":580},{"k":"C56","x":646,"y":573.5},{"k":"C56","x":648,"y":576},{"k":"C56","x":649.5,"y":586},{"k":"C56","x":651,"y":582},{"k":"C56","x":653.5,"y":583},{"k":"C56","x":656,"y":580},{"k":"C56","x":680,"y":580},{"k":"C56","x":703,"y":580},{"k":"C56","x":705,"y":584},{"k":"C56","x":707,"y":580},{"k":"C56","x":714,"y":580},{"k":"C56","x":716.5,"y":571},{"k":"C56","x":719,"y":569},{"k":"C56","x":721,"y":580},{"k":"C56","x":722.5,"y":586},{"k":"C56","x":725,"y":583},{"k":"C56","x":730,"y":582},{"k":"C56","x":760,"y":580.5},{"k":"C56","x":779,"y":580},{"k":"C56","x":781.5,"y":572},{"k":"C56","x":783.5,"y":576},{"k":"C56","x":784.5,"y":587},{"k":"C56","x":786.5,"y":583},{"k":"C56","x":790,"y":581},{"k":"C56","x":820,"y":580.5},{"k":"C56","x":843,"y":580},{"k":"C56","x":845,"y":567.5},{"k":"C56","x":847,"y":574},{"k":"C56","x":849.5,"y":589},{"k":"C56","x":852,"y":584},{"k":"C56","x":855,"y":585},{"k":"C56","x":860,"y":582},{"k":"C56","x":870,"y":580},{"k":"C56","x":905,"y":580},{"k":"C56","x":911.5,"y":571},{"k":"C56","x":914,"y":578},{"k":"C56","x":916,"y":585},{"k":"C56","x":918,"y":592},{"k":"C56","x":920,"y":582},{"k":"C56","x":925,"y":581},{"k":"C56","x":950,"y":580},{"k":"C56","x":978,"y":580},{"k":"C56","x":980,"y":576},{"k":"C56","x":982,"y":580},{"k":"C56","x":985,"y":579},{"k":"C56","x":988,"y":583},{"k":"C56","x":992,"y":580},{"k":"C56","x":1040,"y":580},{"k":"C56","x":1043,"y":573.5},{"k":"C56","x":1045,"y":577},{"k":"C56","x":1047,"y":586},{"k":"C56","x":1049,"y":584},{"k":"C56","x":1052,"y":580},{"k":"C56","x":1055,"y":580},
{"k":"C34","x":291,"y":604},{"k":"C34","x":310,"y":604},{"k":"C34","x":312.5,"y":592},{"k":"C34","x":315,"y":601},{"k":"C34","x":317,"y":597},{"k":"C34","x":319,"y":608.5},{"k":"C34","x":322,"y":605},{"k":"C34","x":326,"y":604},{"k":"C34","x":345,"y":604.5},{"k":"C34","x":380,"y":604},{"k":"C34","x":382.5,"y":592.5},{"k":"C34","x":385,"y":600},{"k":"C34","x":387,"y":596.5},{"k":"C34","x":389,"y":605},{"k":"C34","x":391,"y":607},{"k":"C34","x":394,"y":605},{"k":"C34","x":410,"y":604.5},{"k":"C34","x":440,"y":604},{"k":"C34","x":446,"y":601},{"k":"C34","x":450,"y":599.5},{"k":"C34","x":453,"y":602},{"k":"C34","x":460,"y":604},{"k":"C34","x":500,"y":604},{"k":"C34","x":512.5,"y":592},{"k":"C34","x":515,"y":600},{"k":"C34","x":517,"y":597},{"k":"C34","x":519,"y":606},{"k":"C34","x":521,"y":608.5},{"k":"C34","x":524,"y":605},{"k":"C34","x":545,"y":604.5},{"k":"C34","x":570,"y":604},{"k":"C34","x":576,"y":603},{"k":"C34","x":578,"y":595},{"k":"C34","x":580,"y":599},{"k":"C34","x":582,"y":607},{"k":"C34","x":585,"y":605},{"k":"C34","x":600,"y":604.5},{"k":"C34","x":630,"y":604},{"k":"C34","x":642,"y":603},{"k":"C34","x":644.5,"y":594},{"k":"C34","x":646,"y":600},{"k":"C34","x":648,"y":606},{"k":"C34","x":651,"y":604.5},{"k":"C34","x":690,"y":604},{"k":"C34","x":710,"y":604},{"k":"C34","x":712.5,"y":592},{"k":"C34","x":715,"y":601},{"k":"C34","x":716.5,"y":596},{"k":"C34","x":718.5,"y":608.5},{"k":"C34","x":721,"y":606},{"k":"C34","x":725,"y":604.5},{"k":"C34","x":760,"y":604},{"k":"C34","x":776,"y":604},{"k":"C34","x":778,"y":595},{"k":"C34","x":780,"y":600},{"k":"C34","x":782,"y":607},{"k":"C34","x":785,"y":605},{"k":"C34","x":800,"y":604.5},{"k":"C34","x":838,"y":604},{"k":"C34","x":841.5,"y":588},{"k":"C34","x":843.5,"y":596},{"k":"C34","x":844.5,"y":595},{"k":"C34","x":846.5,"y":608.5},{"k":"C34","x":849,"y":605},{"k":"C34","x":860,"y":604.5},{"k":"C34","x":905,"y":604},{"k":"C34","x":908,"y":600.5},{"k":"C34","x":911,"y":604},{"k":"C34","x":935,"y":604},{"k":"C34","x":944,"y":604},{"k":"C34","x":945.5,"y":600},{"k":"C34","x":946.5,"y":614},{"k":"C34","x":948,"y":605},{"k":"C34","x":975,"y":604},{"k":"C34","x":980,"y":606},{"k":"C34","x":985,"y":601},{"k":"C34","x":990,"y":603},{"k":"C34","x":1000,"y":604},{"k":"C34","x":1038,"y":604},{"k":"C34","x":1040,"y":597},{"k":"C34","x":1042,"y":601},{"k":"C34","x":1044,"y":606},{"k":"C34","x":1047,"y":604},{"k":"C34","x":1055,"y":604},
{"k":"C12","x":291,"y":630},{"k":"C12","x":305,"y":630},{"k":"C12","x":308,"y":622.5},{"k":"C12","x":310,"y":627},{"k":"C12","x":311.5,"y":625},{"k":"C12","x":313.5,"y":628},{"k":"C12","x":316,"y":634.5},{"k":"C12","x":318,"y":631},{"k":"C12","x":322,"y":629},{"k":"C12","x":325,"y":628.5},{"k":"C12","x":330,"y":630},{"k":"C12","x":355,"y":630.5},{"k":"C12","x":361,"y":628},{"k":"C12","x":363,"y":620},{"k":"C12","x":365,"y":626},{"k":"C12","x":368,"y":623},{"k":"C12","x":370,"y":634},{"k":"C12","x":373,"y":628},{"k":"C12","x":375,"y":623},{"k":"C12","x":377,"y":627},{"k":"C12","x":380,"y":635},{"k":"C12","x":383,"y":628},{"k":"C12","x":385,"y":622},{"k":"C12","x":387,"y":630},{"k":"C12","x":388,"y":637},{"k":"C12","x":391,"y":634},{"k":"C12","x":395,"y":630},{"k":"C12","x":420,"y":630.5},{"k":"C12","x":433,"y":629},{"k":"C12","x":436,"y":624},{"k":"C12","x":438,"y":627},{"k":"C12","x":440,"y":621.5},{"k":"C12","x":443,"y":630},{"k":"C12","x":446,"y":633},{"k":"C12","x":450,"y":628},{"k":"C12","x":454,"y":621},{"k":"C12","x":457,"y":624},{"k":"C12","x":462,"y":628},{"k":"C12","x":470,"y":631},{"k":"C12","x":480,"y":630.5},{"k":"C12","x":500,"y":630},{"k":"C12","x":506,"y":628},{"k":"C12","x":508,"y":620},{"k":"C12","x":510,"y":629},{"k":"C12","x":512,"y":624},{"k":"C12","x":514,"y":632},{"k":"C12","x":517,"y":633},{"k":"C12","x":520,"y":629},{"k":"C12","x":524,"y":631},{"k":"C12","x":526,"y":628},{"k":"C12","x":530,"y":630},{"k":"C12","x":560,"y":630},{"k":"C12","x":572,"y":630},{"k":"C12","x":574,"y":621},{"k":"C12","x":576,"y":631},{"k":"C12","x":578,"y":626},{"k":"C12","x":580,"y":630},{"k":"C12","x":600,"y":630},{"k":"C12","x":612,"y":629},{"k":"C12","x":615,"y":622},{"k":"C12","x":617,"y":628},{"k":"C12","x":619,"y":614},{"k":"C12","x":620.5,"y":610},{"k":"C12","x":622,"y":632},{"k":"C12","x":624,"y":613},{"k":"C12","x":626,"y":631},{"k":"C12","x":630,"y":628},{"k":"C12","x":634,"y":624},{"k":"C12","x":636,"y":628},{"k":"C12","x":638,"y":634},{"k":"C12","x":641,"y":630},{"k":"C12","x":645,"y":633},{"k":"C12","x":650,"y":630},{"k":"C12","x":660,"y":630},{"k":"C12","x":680,"y":629.5},{"k":"C12","x":700,"y":630},{"k":"C12","x":705,"y":628},{"k":"C12","x":707,"y":619},{"k":"C12","x":709,"y":627},{"k":"C12","x":711,"y":633},{"k":"C12","x":712.5,"y":640},{"k":"C12","x":715,"y":625},{"k":"C12","x":718,"y":617},{"k":"C12","x":720,"y":615},{"k":"C12","x":722,"y":624},{"k":"C12","x":725,"y":630},{"k":"C12","x":740,"y":630.5},{"k":"C12","x":768,"y":630},{"k":"C12","x":770,"y":624},{"k":"C12","x":772,"y":627},{"k":"C12","x":774,"y":621},{"k":"C12","x":776,"y":632},{"k":"C12","x":778,"y":630},{"k":"C12","x":790,"y":630},{"k":"C12","x":800,"y":628},{"k":"C12","x":802,"y":621.5},{"k":"C12","x":804,"y":633},{"k":"C12","x":806,"y":621},{"k":"C12","x":808,"y":632},{"k":"C12","x":810,"y":630},{"k":"C12","x":830,"y":630},{"k":"C12","x":836,"y":633},{"k":"C12","x":839,"y":625},{"k":"C12","x":843,"y":628},{"k":"C12","x":845,"y":635},{"k":"C12","x":849,"y":630},{"k":"C12","x":870,"y":630},{"k":"C12","x":878,"y":629},{"k":"C12","x":881,"y":622},{"k":"C12","x":884,"y":619},{"k":"C12","x":886,"y":616},{"k":"C12","x":888,"y":622},{"k":"C12","x":891,"y":628},{"k":"C12","x":894,"y":631},{"k":"C12","x":905,"y":629},{"k":"C12","x":907,"y":623},{"k":"C12","x":909,"y":632},{"k":"C12","x":912,"y":630},{"k":"C12","x":944,"y":630},{"k":"C12","x":945.5,"y":627},{"k":"C12","x":946.5,"y":636},{"k":"C12","x":948,"y":630},{"k":"C12","x":970,"y":630},{"k":"C12","x":975,"y":629},{"k":"C12","x":977,"y":608},{"k":"C12","x":979,"y":641},{"k":"C12","x":981,"y":624},{"k":"C12","x":984,"y":631},{"k":"C12","x":988,"y":630},{"k":"C12","x":1000,"y":629},{"k":"C12","x":1010,"y":627.5},{"k":"C12","x":1020,"y":630},{"k":"C12","x":1032,"y":630},{"k":"C12","x":1034,"y":623},{"k":"C12","x":1036,"y":629},{"k":"C12","x":1038,"y":626},{"k":"C12","x":1041,"y":635},{"k":"C12","x":1044,"y":631},{"k":"C12","x":1050,"y":628},{"k":"C12","x":1055,"y":628}
]
},
"encoding":{
"x":{"field":"x","type":"quantitative","scale":{"domain":[0,1280],"nice":false,"zero":false},"axis":null},
"y":{"field":"y","type":"quantitative","scale":{"domain":[0,720],"nice":false,"zero":false,"reverse":true},"axis":null}
},
"layer":[
{"data":{"name":"frame"},"mark":{"type":"rule","color":"#222222","strokeWidth":1},"encoding":{"x2":{"field":"x2"},"y2":{"field":"y2"}}},
{"data":{"name":"ticks"},"mark":{"type":"rule","color":"#333333","strokeWidth":1},"encoding":{"y2":{"field":"y2"}}},
{"data":{"name":"w"},"transform":[{"filter":"datum.k!='A34'"}],"mark":{"type":"line","color":"#111111","strokeWidth":1.3,"strokeJoin":"round"},"encoding":{"detail":{"field":"k"}}},
{"data":{"name":"w"},"transform":[{"filter":"datum.k=='A34'"}],"mark":{"type":"line","color":"#111111","strokeWidth":1.7,"strokeJoin":"round"},"encoding":{"detail":{"field":"k"}}},
{"data":{"name":"box"},"mark":{"type":"rect","fill":null,"stroke":"#d9262b","strokeWidth":1.3,"strokeDash":[4,2]},"encoding":{"x2":{"field":"x2"},"y2":{"field":"y2"}}},
{"data":{"name":"leads"},"mark":{"type":"text","align":"right","baseline":"middle","font":"Liberation Sans","fontSize":9,"color":"#333333"},"encoding":{"text":{"field":"t"}}},
{"data":{"name":"secs"},"mark":{"type":"text","align":"center","baseline":"middle","font":"Liberation Sans","fontSize":8,"color":"#444444"},"encoding":{"text":{"field":"t"}}},
{"data":{"values":[{"x":28,"y":37,"t":"CASE #5 (cont.)"}]},"mark":{"type":"text","align":"left","baseline":"middle","font":"Lato","fontWeight":"bold","fontSize":34,"color":"#ff0000"},"encoding":{"text":{"field":"t"}}},
{"data":{"values":[{"x":236,"y":106,"t":"AFCL in LA roof after CPVI combined 0.25mg ibutilide"}]},"mark":{"type":"text","align":"left","baseline":"middle","font":"Liberation Sans","fontWeight":"bold","fontStyle":"italic","fontSize":26.5,"color":"#0d1f5c"},"encoding":{"text":{"field":"t"}}},
{"data":{"values":[{"x":519,"y":297,"t":"Slower…"}]},"mark":{"type":"text","align":"left","baseline":"middle","font":"Lato","fontWeight":"bold","fontStyle":"italic","fontSize":26,"color":"#0d1f5c"},"encoding":{"text":{"field":"t"}}}
]
}
